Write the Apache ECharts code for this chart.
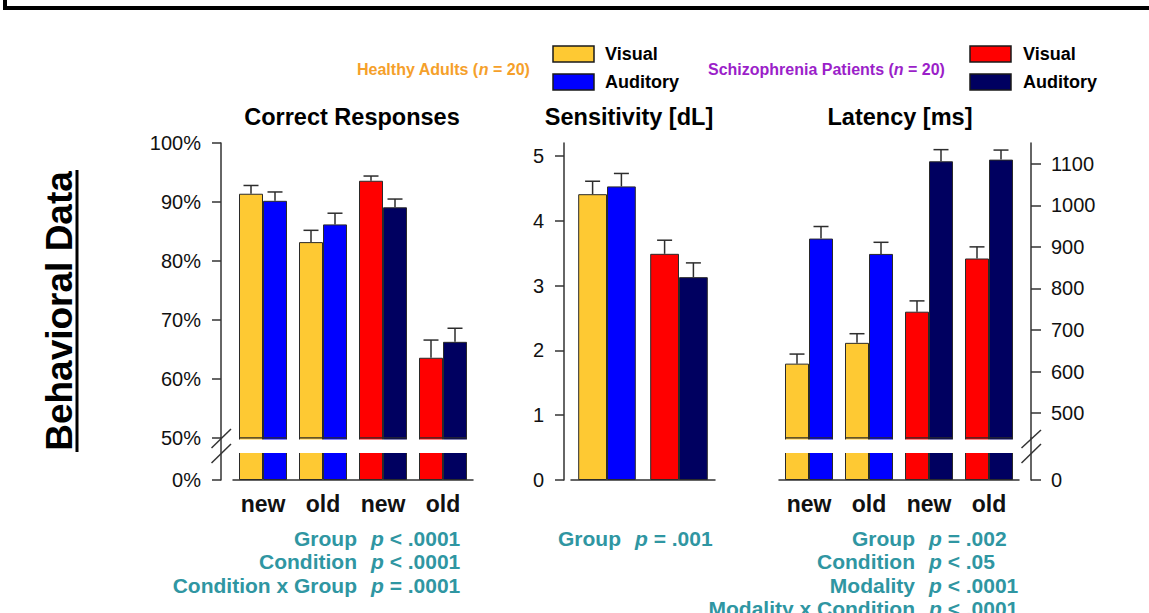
<!DOCTYPE html>
<html>
<head>
<meta charset="utf-8">
<script src="https://cdn.jsdelivr.net/npm/echarts@6/dist/echarts.min.js"></script>
<style>
  html, body { margin: 0; padding: 0; background: #ffffff; }
  #chart { width: 1149px; height: 613px; }
</style>
</head>
<body>
<div id="chart"></div>
<script>
// ---- data -------------------------------------------------------------
const conditionLabels = ['new', 'old', 'new', 'old'];
const conditionGroup = [0, 0, 1, 1];          // 0 = healthy adults, 1 = patients
const sensitivityLabels = ['Healthy Adults', 'Schizophrenia Patients'];
const sensitivityGroup = [0, 1];

const groupNames = ['Healthy Adults', 'Schizophrenia Patients'];
const groupN = [20, 20];
const modalityNames = ['Visual', 'Auditory'];

// correct responses (%), mean and standard error
const correctVisual = [91.4, 83.2, 93.6, 63.6];
const correctVisualSem = [1.4, 2.0, 0.8, 3.0];
const correctAuditory = [90.2, 86.2, 89.1, 66.3];
const correctAuditorySem = [1.5, 1.9, 1.4, 2.3];

// sensitivity (dL)
const sensVisual = [4.41, 3.49];
const sensVisualSem = [0.20, 0.21];
const sensAuditory = [4.53, 3.13];
const sensAuditorySem = [0.20, 0.22];

// latency (ms)
const latVisual = [619, 669, 744, 872];
const latVisualSem = [23, 22, 26, 28];
const latAuditory = [920, 883, 1106, 1110];
const latAuditorySem = [29, 28, 28, 23];

// tick labels
const correctUpperTicks = [50, 60, 70, 80, 90, 100];
const correctLowerTicks = [0];
const sensTicks = [0, 1, 2, 3, 4, 5];
const latUpperTicks = [500, 600, 700, 800, 900, 1000, 1100];
const latLowerTicks = [0];

// statistics printed under each panel: [effect, relation, p]
const statsCorrect = [['Group', '<', '.0001'], ['Condition', '<', '.0001'], ['Condition x Group', '=', '.0001']];
const statsSens = [['Group', '=', '.001']];
const statsLatency = [['Group', '=', '.002'], ['Condition', '<', '.05'], ['Modality', '<', '.0001'], ['Modality x Condition', '<', '.0001']];

// ---- styling ----------------------------------------------------------
const FONT = '"Liberation Sans", Arial, Helvetica, sans-serif';
const visualColors = ['#fec933', '#ff0000'];
const auditoryColors = ['#0000ff', '#000060'];
const groupTextColors = ['#f5a02a', '#9b1fc9'];
const STAT_COLOR = '#2f96a2';
const AXIS_COLOR = '#333333';
const BORDER = '#2a2a2a';

const chart = echarts.init(document.getElementById('chart'), null, { renderer: 'svg' });

// ---- helpers ----------------------------------------------------------
function barSeries(name, values, colors, groups, idx, barWidth) {
  return {
    type: 'bar', name, xAxisIndex: idx, yAxisIndex: idx,
    barWidth, barGap: '0%', clip: true, silent: true,
    data: values.map((v, i) => ({ value: v, itemStyle: { color: colors[groups[i]] } })),
    itemStyle: { borderColor: BORDER, borderWidth: 1 }
  };
}

function errorSeries(values, sems, side, idx, barWidth) {
  return {
    type: 'custom', xAxisIndex: idx, yAxisIndex: idx, clip: false, silent: true, z: 3,
    data: values.map((v, i) => [i, v, v + sems[i]]),
    encode: { x: 0, y: [1, 2] },
    renderItem: function (params, api) {
      const base = api.coord([api.value(0), api.value(1)]);
      const top = api.coord([api.value(0), api.value(2)]);
      const x = base[0] + side * barWidth / 2;
      const half = 7.5;
      const style = { stroke: '#2d2d2d', lineWidth: 1.5 };
      return {
        type: 'group',
        children: [
          { type: 'line', shape: { x1: x, y1: base[1], x2: x, y2: top[1] }, style },
          { type: 'line', shape: { x1: x - half, y1: top[1], x2: x + half, y2: top[1] }, style }
        ]
      };
    }
  };
}

function tickAxis(idx, ticks, fmt, tickLen, opts) {
  return Object.assign({
    type: 'value', gridIndex: idx, splitLine: { show: false },
    axisLine: { show: true, lineStyle: { color: AXIS_COLOR, width: 1.5 } },
    axisTick: { show: true, length: tickLen, customValues: ticks, lineStyle: { color: AXIS_COLOR, width: 1.5 } },
    axisLabel: { color: '#111', fontSize: 20, fontFamily: FONT, margin: 20, customValues: ticks, formatter: fmt }
  }, opts);
}

function catAxis(idx, cats, showLine, showLabels) {
  return {
    type: 'category', gridIndex: idx, data: cats,
    axisLine: { show: showLine, lineStyle: { color: AXIS_COLOR, width: 1.5 } },
    axisTick: { show: false },
    axisLabel: { show: showLabels, color: '#111', fontSize: 23, fontWeight: 'bold', fontFamily: FONT, margin: 12 }
  };
}

function text(x, y, str, extra) {
  return {
    type: 'text', z: 120, silent: true,
    style: Object.assign({ x, y, text: str, fontFamily: FONT, fill: '#000' }, extra)
  };
}

function statLines(rows, splitX, startY) {
  const out = [];
  rows.forEach((r, i) => {
    const y = startY + i * 23.5;
    out.push(text(splitX - 14, y, r[0], {
      fontSize: 21, fontWeight: 'bold', fill: STAT_COLOR, align: 'right', verticalAlign: 'middle'
    }));
    out.push(text(splitX, y, '{i|p}{t| ' + r[1] + ' ' + r[2] + '}', {
      align: 'left', verticalAlign: 'middle',
      rich: {
        i: { fontSize: 21, fontWeight: 'bold', fontStyle: 'italic', fill: STAT_COLOR, fontFamily: FONT },
        t: { fontSize: 21, fontWeight: 'bold', fill: STAT_COLOR, fontFamily: FONT }
      }
    }));
  });
  return out;
}

function groupLabel(x, y, g) {
  const c = groupTextColors[g];
  return text(x, y, '{t|' + groupNames[g] + ' (}{i|n}{t| = ' + groupN[g] + ')}', {
    align: 'left', verticalAlign: 'middle',
    rich: {
      t: { fontSize: 16, fontWeight: 'bold', fill: c, fontFamily: FONT },
      i: { fontSize: 16, fontWeight: 'bold', fontStyle: 'italic', fill: c, fontFamily: FONT }
    }
  });
}

function legendBox(x, y, color) {
  return { type: 'rect', z: 120, silent: true, shape: { x, y, width: 41, height: 16 },
           style: { fill: color, stroke: '#1a1a1a', lineWidth: 1.5 } };
}

function line(x1, y1, x2, y2, w, color) {
  return { type: 'line', z: 121, silent: true, shape: { x1, y1, x2, y2 },
           style: { stroke: color || AXIS_COLOR, lineWidth: w || 1.5 } };
}

function whiteBand(x, width) {
  return { type: 'rect', z: 110, silent: true, shape: { x, y: 439.5, width, height: 13.5 },
           style: { fill: '#ffffff' } };
}

// ---- layout -----------------------------------------------------------
const grids = [
  { left: 233, top: 143, width: 240, height: 295 },   // correct responses, 50–100 %
  { left: 233, top: 438, width: 240, height: 42 },    // correct responses, 0 segment
  { left: 571, top: 143, width: 144, height: 337 },   // sensitivity
  { left: 779, top: 143, width: 240, height: 295 },   // latency, upper segment
  { left: 779, top: 438, width: 240, height: 42 }     // latency, 0 segment
];

const percentFmt = v => v + '%';
const plainFmt = v => String(v);

const option = {
  animation: false,
  backgroundColor: '#ffffff',
  grid: grids.map(g => Object.assign({ containLabel: false }, g)),
  xAxis: [
    catAxis(0, conditionLabels, false, false),
    catAxis(1, conditionLabels, true, true),
    catAxis(2, sensitivityLabels, true, false),
    catAxis(3, conditionLabels, false, false),
    catAxis(4, conditionLabels, true, true)
  ],
  yAxis: [
    tickAxis(0, correctUpperTicks, percentFmt, 9, { min: 50, max: 100, offset: 12 }),
    tickAxis(1, correctLowerTicks, percentFmt, 9, { min: 0, max: 50, offset: 12 }),
    tickAxis(2, sensTicks, plainFmt, 9, { min: 0, max: 5.2, offset: 7 }),
    tickAxis(3, latUpperTicks, plainFmt, 10, { position: 'right', min: 440, max: 1150, offset: 12 }),
    tickAxis(4, latLowerTicks, plainFmt, 10, { position: 'right', min: 0, max: 100, offset: 12 })
  ],
  series: [
    // correct responses
    barSeries(modalityNames[0], correctVisual, visualColors, conditionGroup, 0, 24),
    barSeries(modalityNames[1], correctAuditory, auditoryColors, conditionGroup, 0, 24),
    barSeries(modalityNames[0], correctVisual, visualColors, conditionGroup, 1, 24),
    barSeries(modalityNames[1], correctAuditory, auditoryColors, conditionGroup, 1, 24),
    errorSeries(correctVisual, correctVisualSem, -1, 0, 24),
    errorSeries(correctAuditory, correctAuditorySem, 1, 0, 24),
    // sensitivity
    barSeries(modalityNames[0], sensVisual, visualColors, sensitivityGroup, 2, 28.8),
    barSeries(modalityNames[1], sensAuditory, auditoryColors, sensitivityGroup, 2, 28.8),
    errorSeries(sensVisual, sensVisualSem, -1, 2, 28.8),
    errorSeries(sensAuditory, sensAuditorySem, 1, 2, 28.8),
    // latency
    barSeries(modalityNames[0], latVisual, visualColors, conditionGroup, 3, 24),
    barSeries(modalityNames[1], latAuditory, auditoryColors, conditionGroup, 3, 24),
    barSeries(modalityNames[0], latVisual, visualColors, conditionGroup, 4, 24),
    barSeries(modalityNames[1], latAuditory, auditoryColors, conditionGroup, 4, 24),
    errorSeries(latVisual, latVisualSem, -1, 3, 24),
    errorSeries(latAuditory, latAuditorySem, 1, 3, 24)
  ],
  graphic: [].concat(
    [
      // frame edge along the top
      { type: 'rect', z: 130, silent: true, shape: { x: 5, y: -100, width: 1200, height: 108 },
        style: { fill: 'none', stroke: '#000', lineWidth: 4 } },

      // panel titles
      text(352, 117, 'Correct Responses', { fontSize: 23.5, fontWeight: 'bold', align: 'center', verticalAlign: 'middle' }),
      text(629, 117, 'Sensitivity [dL]', { fontSize: 23.5, fontWeight: 'bold', align: 'center', verticalAlign: 'middle' }),
      text(900, 117, 'Latency [ms]', { fontSize: 23.5, fontWeight: 'bold', align: 'center', verticalAlign: 'middle' }),

      // side heading
      { type: 'text', z: 120, silent: true, x: 59, y: 311, rotation: Math.PI / 2,
        style: { text: 'Behavioral Data', fontFamily: FONT, fontSize: 37, fontWeight: 'bold', fill: '#000',
                 align: 'center', verticalAlign: 'middle' } },
      line(77, 170, 77, 452, 3, '#000'),

      // legend
      groupLabel(357, 69, 0),
      legendBox(553, 46, visualColors[0]),
      legendBox(553, 74, auditoryColors[0]),
      text(605, 54, modalityNames[0], { fontSize: 18, fontWeight: 'bold', verticalAlign: 'middle' }),
      text(605, 82, modalityNames[1], { fontSize: 18, fontWeight: 'bold', verticalAlign: 'middle' }),
      groupLabel(708, 69, 1),
      legendBox(970, 46, visualColors[1]),
      legendBox(970, 74, auditoryColors[1]),
      text(1023, 54, modalityNames[0], { fontSize: 18, fontWeight: 'bold', verticalAlign: 'middle' }),
      text(1023, 82, modalityNames[1], { fontSize: 18, fontWeight: 'bold', verticalAlign: 'middle' }),

      // axis breaks
      whiteBand(228, 250),
      whiteBand(774, 250),
      line(211.5, 448, 231, 429),
      line(211.5, 463, 231, 444),
      line(1021.5, 448, 1041, 430),
      line(1021.5, 463, 1041, 444)
    ],
    statLines(statsCorrect, 371, 538),
    statLines(statsSens, 635, 538),
    statLines(statsLatency, 929, 538)
  )
};

chart.setOption(option);
</script>
</body>
</html>
